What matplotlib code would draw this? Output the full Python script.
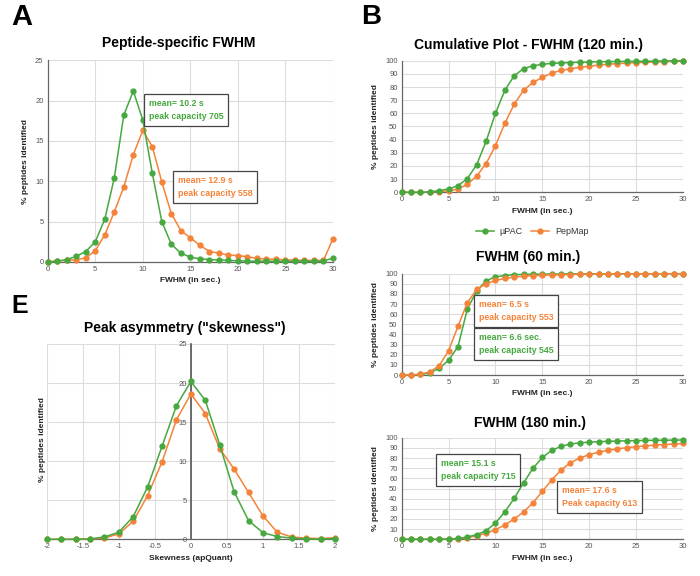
import matplotlib
matplotlib.use("Agg")
import matplotlib.pyplot as plt
import numpy as np
from matplotlib.lines import Line2D

plt.rcParams['font.family'] = ['Liberation Sans', 'DejaVu Sans']

GREEN = '#46a83f'
ORANGE = '#f4833a'
GRID = '#dcdcdc'
TICKC = '#555555'

# ---------------- Data ----------------
fwhm_x = list(range(0, 31))

# Panel A: peptide-specific FWHM distribution (%)
a_upac = [0, 0.1, 0.3, 0.7, 1.3, 2.5, 5.3, 10.4, 18.2, 21.2, 17.6, 11.0, 5.0, 2.2, 1.1,
          0.6, 0.4, 0.3, 0.25, 0.2, 0.15, 0.1, 0.1, 0.1, 0.1, 0.1, 0.1, 0.1, 0.1, 0.1, 0.5]
a_pepmap = [0, 0.15, 0.2, 0.3, 0.5, 1.4, 3.35, 6.2, 9.3, 13.3, 16.3, 14.3, 9.9, 6.0, 3.9,
            3.0, 2.07, 1.3, 1.1, 0.85, 0.8, 0.65, 0.45, 0.35, 0.35, 0.25, 0.25, 0.2, 0.2, 0.2, 2.9]

# Panel B: cumulative 120 min
c120_upac = [0, 0, 0, 0.3, 1.3, 2.5, 5.0, 10.4, 21.0, 38.7, 60.0, 77.5, 88.6, 94.0, 96.2,
             97.2, 98.0, 98.3, 98.6, 98.8, 99.0, 99.2, 99.3, 99.4, 99.5, 99.5, 99.6, 99.7, 99.8, 99.9, 100]
c120_pepmap = [0, 0, 0, 0.2, 0.6, 1.1, 2.5, 6.0, 12.4, 21.8, 35.4, 52.4, 67.0, 77.5, 83.5,
               87.3, 90.6, 92.6, 93.9, 95.0, 95.8, 96.7, 97.3, 97.8, 98.2, 98.5, 98.7, 99.0, 99.2, 99.4, 99.7]

# cumulative 60 min
c60_upac = [0, 0, 0.5, 2.0, 6.6, 14.5, 28.0, 65.0, 83.0, 93.0, 97.0, 98.2, 99.0, 99.3, 99.5,
            99.6, 99.7, 99.7, 99.8, 99.8, 99.9, 99.9, 99.9, 99.9, 100, 100, 100, 100, 100, 100, 100]
c60_pepmap = [0, 0, 0.8, 3.0, 9.2, 24.0, 48.0, 71.4, 84.5, 90.0, 93.4, 95.3, 96.7, 97.5, 98.0,
              98.5, 98.8, 99.0, 99.2, 99.4, 99.6, 99.7, 99.7, 99.8, 99.8, 99.9, 99.9, 99.9, 100, 100, 100]

# cumulative 180 min
c180_upac = [0, 0, 0, 0, 0, 0.3, 0.8, 2.3, 4.6, 8.5, 16.0, 27.0, 40.3, 55.7, 69.8,
             80.6, 87.5, 91.5, 93.8, 95.0, 95.5, 96.1, 96.4, 96.7, 96.9, 97.1, 97.3, 97.4, 97.5, 97.6, 97.7]
c180_pepmap = [0, 0, 0, 0, 0, 0.2, 0.7, 1.5, 3.5, 5.9, 9.5, 14.1, 20.0, 26.9, 36.0,
               47.2, 58.4, 68.2, 75.4, 80.0, 83.3, 85.8, 87.6, 89.0, 90.2, 91.2, 92.0, 92.7, 93.3, 93.8, 94.3]

# Panel E: skewness
skew_x = [-2.0, -1.8, -1.6, -1.4, -1.2, -1.0, -0.8, -0.6, -0.4, -0.2, 0.0,
          0.2, 0.4, 0.6, 0.8, 1.0, 1.2, 1.4, 1.6, 1.8, 2.0]
skew_upac = [0, 0, 0, 0.05, 0.3, 0.9, 2.9, 6.7, 11.9, 17.1, 20.2,
             17.8, 12.1, 6.1, 2.4, 0.85, 0.35, 0.15, 0.05, 0.0, 0.1]
skew_pepmap = [0, 0, 0, 0.05, 0.15, 0.7, 2.3, 5.6, 9.9, 15.3, 18.6,
               16.1, 11.6, 9.0, 6.0, 3.0, 0.9, 0.3, 0.15, 0.1, 0.2]

W, H = 700, 576
fig = plt.figure(figsize=(W / 100, H / 100), dpi=100)


def add_ax(x0, x1, y0, y1):
    return fig.add_axes([x0 / W, 1 - y1 / H, (x1 - x0) / W, (y1 - y0) / H])


def style(ax, xlim, ylim, xticks, yticks):
    ax.set_xlim(*xlim)
    ax.set_ylim(*ylim)
    ax.set_xticks(xticks)
    ax.set_yticks(yticks)
    ax.grid(True, color=GRID, linewidth=0.8)
    ax.set_axisbelow(True)
    for s in ['top', 'right']:
        ax.spines[s].set_visible(False)
    for s in ['left', 'bottom']:
        ax.spines[s].set_color('#666666')
        ax.spines[s].set_linewidth(0.9)
    ax.tick_params(length=0, labelsize=5.5, colors=TICKC, pad=3)


def plot_pair(ax, x, g, o, order_orange_first=False):
    kw = dict(marker='o', markersize=3.5, linewidth=1.1, clip_on=False)
    if order_orange_first:
        ax.plot(x, g, color=GREEN, zorder=3, **kw)
        ax.plot(x, o, color=ORANGE, zorder=4, **kw)
    else:
        ax.plot(x, o, color=ORANGE, zorder=3, **kw)
        ax.plot(x, g, color=GREEN, zorder=4, **kw)


def box(x_px, y_px, text, color):
    fig.text(x_px / W, 1 - y_px / H, text, color=color, fontsize=6.3,
             fontweight='bold', va='top', ha='left', linespacing=1.55,
             bbox=dict(boxstyle='square,pad=0.55', fc='white', ec='#444444', lw=0.9))


def label(ax, xl, yl):
    ax.set_xlabel(xl, fontsize=6, fontweight='bold', color='#222222', labelpad=3)
    ax.set_ylabel(yl, fontsize=6, fontweight='bold', color='#222222', labelpad=4)


# ---------------- Panel A ----------------
axA = add_ax(47.7, 333, 60.3, 262)
style(axA, (0, 30), (0, 25), range(0, 31, 5), range(0, 26, 5))
plot_pair(axA, fwhm_x, a_upac, a_pepmap)
label(axA, 'FWHM (in sec.)', '% peptides identified')
fig.text(179 / W, 1 - 43 / H, 'Peptide-specific FWHM', fontsize=10, fontweight='bold',
         ha='center', va='center')
fig.text(11 / W, 1 - 17 / H, 'A', fontsize=21, fontweight='bold', ha='left', va='center')
box(149, 99, 'mean= 10.2 s\npeak capacity 705', GREEN)
box(178, 176, 'mean= 12.9 s\npeak capacity 558', ORANGE)

# ---------------- Panel B: 120 min ----------------
axB = add_ax(401.7, 683, 60.7, 192.3)
style(axB, (0, 30), (0, 100), range(0, 31, 5), range(0, 101, 10))
plot_pair(axB, fwhm_x, c120_upac, c120_pepmap)
label(axB, 'FWHM (in sec.)', '% peptides identified')
fig.text(529 / W, 1 - 45 / H, 'Cumulative Plot - FWHM (120 min.)', fontsize=10,
         fontweight='bold', ha='center', va='center')
fig.text(361 / W, 1 - 17 / H, 'B', fontsize=20, fontweight='bold', ha='left', va='center')

handles = [Line2D([], [], color=GREEN, marker='o', markersize=3.5, lw=1.1),
           Line2D([], [], color=ORANGE, marker='o', markersize=3.5, lw=1.1)]
fig.legend(handles, ['µPAC', 'PepMap'], loc='center', ncol=2,
           bbox_to_anchor=(532 / W, 1 - 232 / H), frameon=False, fontsize=6.5,
           handlelength=2.0, columnspacing=1.0, handletextpad=0.6,
           labelcolor='#333333')

# ---------------- 60 min ----------------
ax60 = add_ax(401.7, 683, 273.7, 375)
style(ax60, (0, 30), (0, 100), range(0, 31, 5), range(0, 101, 10))
plot_pair(ax60, fwhm_x, c60_upac, c60_pepmap, order_orange_first=True)
label(ax60, 'FWHM (in sec.)', '% peptides identified')
fig.text(528 / W, 1 - 257 / H, 'FWHM (60 min.)', fontsize=10, fontweight='bold',
         ha='center', va='center')
box(479, 300, 'mean= 6.5 s\npeak capacity 553', ORANGE)
box(479, 333, 'mean= 6.6 sec.\npeak capacity 545', GREEN)

# ---------------- 180 min ----------------
ax180 = add_ax(401.7, 683, 437.7, 539.3)
style(ax180, (0, 30), (0, 100), range(0, 31, 5), range(0, 101, 10))
plot_pair(ax180, fwhm_x, c180_upac, c180_pepmap)
label(ax180, 'FWHM (in sec.)', '% peptides identified')
fig.text(530 / W, 1 - 423 / H, 'FWHM (180 min.)', fontsize=10, fontweight='bold',
         ha='center', va='center')
box(441, 459, 'mean= 15.1 s\npeak capacity 715', GREEN)
box(562, 486, 'mean= 17.6 s\nPeak capacity 613', ORANGE)

# ---------------- Panel E ----------------
axE = add_ax(46.7, 335, 344, 539.3)
style(axE, (-2, 2), (0, 25), np.arange(-2, 2.01, 0.5), range(0, 26, 5))
axE.spines['left'].set_position(('data', 0))
axE.spines['left'].set_color('#555555')
axE.spines['left'].set_linewidth(1.2)
axE.set_xticklabels(['-2', '-1.5', '-1', '-0.5', '0', '0.5', '1', '1.5', '2'])
plot_pair(axE, skew_x, skew_upac, skew_pepmap)
axE.set_xlabel('Skewness (apQuant)', fontsize=6, fontweight='bold', color='#222222', labelpad=3)
fig.text(42 / W, 1 - 440 / H, '% peptides identified', fontsize=6, fontweight='bold',
         color='#222222', rotation=90, ha='center', va='center')
fig.text(185 / W, 1 - 328 / H, 'Peak asymmetry ("skewness")', fontsize=10,
         fontweight='bold', ha='center', va='center')
fig.text(11 / W, 1 - 306 / H, 'E', fontsize=18, fontweight='bold', ha='left', va='center')

fig.savefig('out.png', dpi=100)
